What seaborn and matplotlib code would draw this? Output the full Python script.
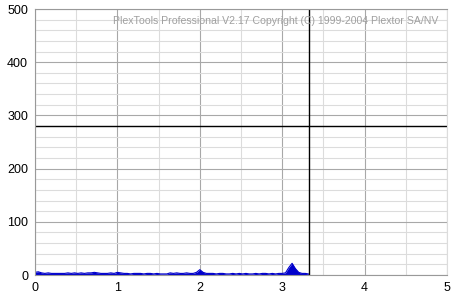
import numpy as np
import pandas as pd
import matplotlib
matplotlib.use("Agg")
import matplotlib.pyplot as plt
import seaborn as sns
from matplotlib.ticker import MultipleLocator

# Data (position in GB, error count)
positions = np.round(np.arange(0, 3.321, 0.04), 2)
errors = [5, 6, 4, 3, 4, 3, 3, 3, 3, 3, 4, 3, 4, 3, 4, 3, 4, 4, 5, 4,
          3, 3, 3, 4, 3, 5, 4, 3, 3, 2, 3, 3, 3, 2, 3, 3, 2, 3, 2, 2,
          2, 4, 3, 4, 3, 3, 4, 3, 3, 5, 10, 5, 3, 3, 3, 2, 3, 3, 2, 2,
          3, 2, 3, 2, 3, 2, 2, 3, 2, 3, 3, 2, 3, 2, 3, 3, 4, 14, 22, 12,
          5, 3, 3, 2]
cursor_x = 3.325
cursor_y = 280
x_ticks = [0, 1, 2, 3, 4, 5]
y_ticks = [0, 100, 200, 300, 400, 500]
watermark = "PlexTools Professional V2.17 Copyright (C) 1999-2004 Plextor SA/NV"

df = pd.DataFrame({"pos": positions[:len(errors)], "err": errors})

sns.set_theme(style="white")
plt.rcParams['font.family'] = ['Liberation Sans', 'DejaVu Sans']

fig = plt.figure(figsize=(4.67, 3.00), dpi=100)
ax = fig.add_axes([35/467, 25/300, 412/467, 266/300])

ax.xaxis.set_major_locator(MultipleLocator(1))
ax.xaxis.set_minor_locator(MultipleLocator(0.5))
ax.yaxis.set_major_locator(MultipleLocator(100))
ax.yaxis.set_minor_locator(MultipleLocator(20))
ax.grid(which='major', color='#a8a8a8', linewidth=0.8)
ax.grid(which='minor', color='#dcdcdc', linewidth=0.8)
ax.set_axisbelow(True)

ax.fill_between(df["pos"], 0, df["err"], color='#0000cc', linewidth=0)
sns.lineplot(data=df, x="pos", y="err", ax=ax, color='#0000cc', linewidth=0.8)

ax.axhline(cursor_y, color='black', linewidth=1.0)
ax.axvline(cursor_x, color='black', linewidth=1.0)

ax.set_xlim(0, 5)
ax.set_ylim(0, 500)
ax.set_xticks(x_ticks)
ax.set_yticks(y_ticks)
ax.set_xlabel("")
ax.set_ylabel("")
ax.tick_params(axis='both', which='major', labelsize=9, colors='black', length=3,
               width=0.8, pad=2)
ax.tick_params(axis='both', which='minor', length=0)
ax.tick_params(axis='x', color='#a8a8a8')
ax.tick_params(axis='y', color='#a8a8a8')

for side in ['left', 'bottom', 'top']:
    ax.spines[side].set_color('#999999')
    ax.spines[side].set_linewidth(0.8)
ax.spines['right'].set_color('#dcdcdc')
ax.spines['right'].set_linewidth(0.8)

ax.text(0.98, 0.955, watermark, transform=ax.transAxes, ha='right', va='center',
        fontsize=7.6, color='#a0a0a0')

fig.savefig("out.png", dpi=100, facecolor='white')
